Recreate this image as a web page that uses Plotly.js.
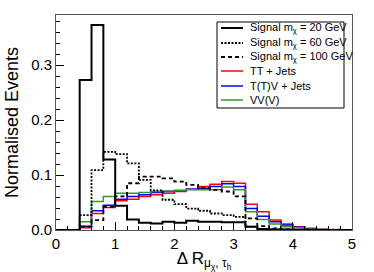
<!DOCTYPE html>
<html><head><meta charset="utf-8">
<script src="https://cdn.plot.ly/plotly-3.0.1.min.js"></script>
<style>body{margin:0;background:#fff}#chart{width:374px;height:272px}</style>
</head><body><div id="chart"></div>
<script>
// bin edges of Delta R (25 bins of 0.2 from 0 to 5)
const binEdges = [0,0.2,0.4,0.6,0.8,1.0,1.2,1.4,1.6,1.8,2.0,2.2,2.4,2.6,2.8,3.0,3.2,3.4,3.6,3.8,4.0,4.2,4.4,4.6,4.8,5.0];
const sig20  = [0,0,0.273,0.373,0.128,0.044,0.019,0.013,0.012,0.015,0.013,0.017,0.015,0.015,0.014,0.014,0.006,0.002,0.001,0.001,0.0005,0.0003,0.0002,0.0001,0.0001];
const sig60  = [0,0,0.027,0.109,0.142,0.138,0.121,0.091,0.072,0.055,0.047,0.039,0.035,0.030,0.027,0.024,0.006,0.0015,0.001,0.0005,0.0003,0.0002,0.0001,0.0001,0];
const sig100 = [0,0,0.006,0.018,0.042,0.061,0.085,0.097,0.097,0.094,0.088,0.082,0.076,0.073,0.070,0.061,0.021,0.007,0.003,0.001,0.0005,0.0003,0.0002,0.0001,0];
const ttJets = [0,0,0.004,0.030,0.041,0.053,0.056,0.061,0.064,0.067,0.070,0.074,0.079,0.083,0.088,0.085,0.047,0.033,0.018,0.011,0.006,0.003,0.0015,0.0008,0.0005];
const ttvJets= [0,0,0.007,0.035,0.045,0.056,0.061,0.064,0.068,0.070,0.072,0.074,0.076,0.079,0.084,0.079,0.039,0.025,0.015,0.009,0.005,0.002,0.001,0.0006,0.0003];
const vvv    = [0,0,0.015,0.052,0.061,0.067,0.067,0.068,0.070,0.071,0.072,0.073,0.073,0.073,0.078,0.073,0.033,0.019,0.011,0.006,0.004,0.002,0.001,0.0005,0.0003];
const names = ["Signal m<sub>χ</sub> = 20 GeV","Signal m<sub>χ</sub> = 60 GeV","Signal m<sub>χ</sub> = 100 GeV","TT + Jets","T(T)V + Jets","VV(V)"];
const xTickLabels = ["0","1","2","3","4","5"];
const yTickLabels = ["0.0","0.1","0.2","0.3"];

const DOT='2px,1.5px', DASH='4px,3px';
const series = [ttJets, ttvJets, vvv, sig100, sig60, sig20];
const styles = [
  {color:'#ff0000', width:1.5, dash:'solid'},
  {color:'#0000ff', width:1.5, dash:'solid'},
  {color:'#2e982e', width:1.5, dash:'solid'},
  {color:'#000000', width:1.8, dash:DASH},
  {color:'#000000', width:1.8, dash:DOT},
  {color:'#000000', width:2, dash:'solid'}
];
const traces = series.map((v,i)=>({
  type:'scatter', mode:'lines', x: binEdges, y: v.concat([v[v.length-1]]),
  line:{shape:'hv', color:styles[i].color, width:styles[i].width, dash:styles[i].dash},
  showlegend:false, hoverinfo:'skip'
}));

// custom legend
const legOrder = [styles[5], styles[4], styles[3], styles[0], styles[1], styles[2]];
const W=374,H=272,L=56,R=22,T=15,B=42;
const pw=W-L-R, ph=H-T-B;
const px = X=>(X-L)/pw, py = Y=>1-(Y-T)/ph;
const shapes=[{type:'rect',xref:'paper',yref:'paper',x0:px(217),x1:px(344),y0:py(108),y1:py(22),line:{color:'#000',width:1},fillcolor:'#fff'}];
const annotations=[];
const rowsY=[28,43,57,71,86,100];
legOrder.forEach((s,i)=>{
  shapes.push({type:'line',xref:'paper',yref:'paper',x0:px(221),x1:px(243),y0:py(rowsY[i]),y1:py(rowsY[i]),line:{color:s.color,width:s.width,dash:s.dash}});
  annotations.push({xref:'paper',yref:'paper',x:px(248),y:py(rowsY[i]),xanchor:'left',yanchor:'middle',showarrow:false,text:names[i],font:{size:11,color:'#000'}});
});

const layout={
  width:W,height:H,margin:{l:L,r:R,t:T,b:B},
  paper_bgcolor:'#fff',plot_bgcolor:'#fff',showlegend:false,
  font:{family:'Liberation Sans, Arial, sans-serif',color:'#000'},
  xaxis:{range:[0,5],tickvals:[0,1,2,3,4,5],ticktext:xTickLabels,ticks:'inside',ticklen:8,tickcolor:'#000',
    showgrid:false,zeroline:false,showline:true,linecolor:'#555',linewidth:1,mirror:true,
    minor:{dtick:0.2,ticks:'inside',ticklen:4,tickcolor:'#000',showgrid:false},
    tickfont:{size:15},
    title:{text:'Δ R<sub>μ<sub>χ</sub>, τ<sub>h</sub></sub>',font:{size:17},standoff:4}},
  yaxis:{range:[0,0.391],tickvals:[0,0.1,0.2,0.3],ticktext:yTickLabels,ticks:'inside',ticklen:8,tickcolor:'#000',
    showgrid:false,zeroline:false,showline:true,linecolor:'#555',linewidth:1,mirror:true,
    minor:{dtick:0.02,ticks:'inside',ticklen:4,tickcolor:'#000',showgrid:false},
    tickfont:{size:15},
    title:{text:'Normalised Events',font:{size:18},standoff:7}},
  shapes:shapes,annotations:annotations
};
Plotly.newPlot('chart',traces,layout,{staticPlot:true});
</script></body></html>
